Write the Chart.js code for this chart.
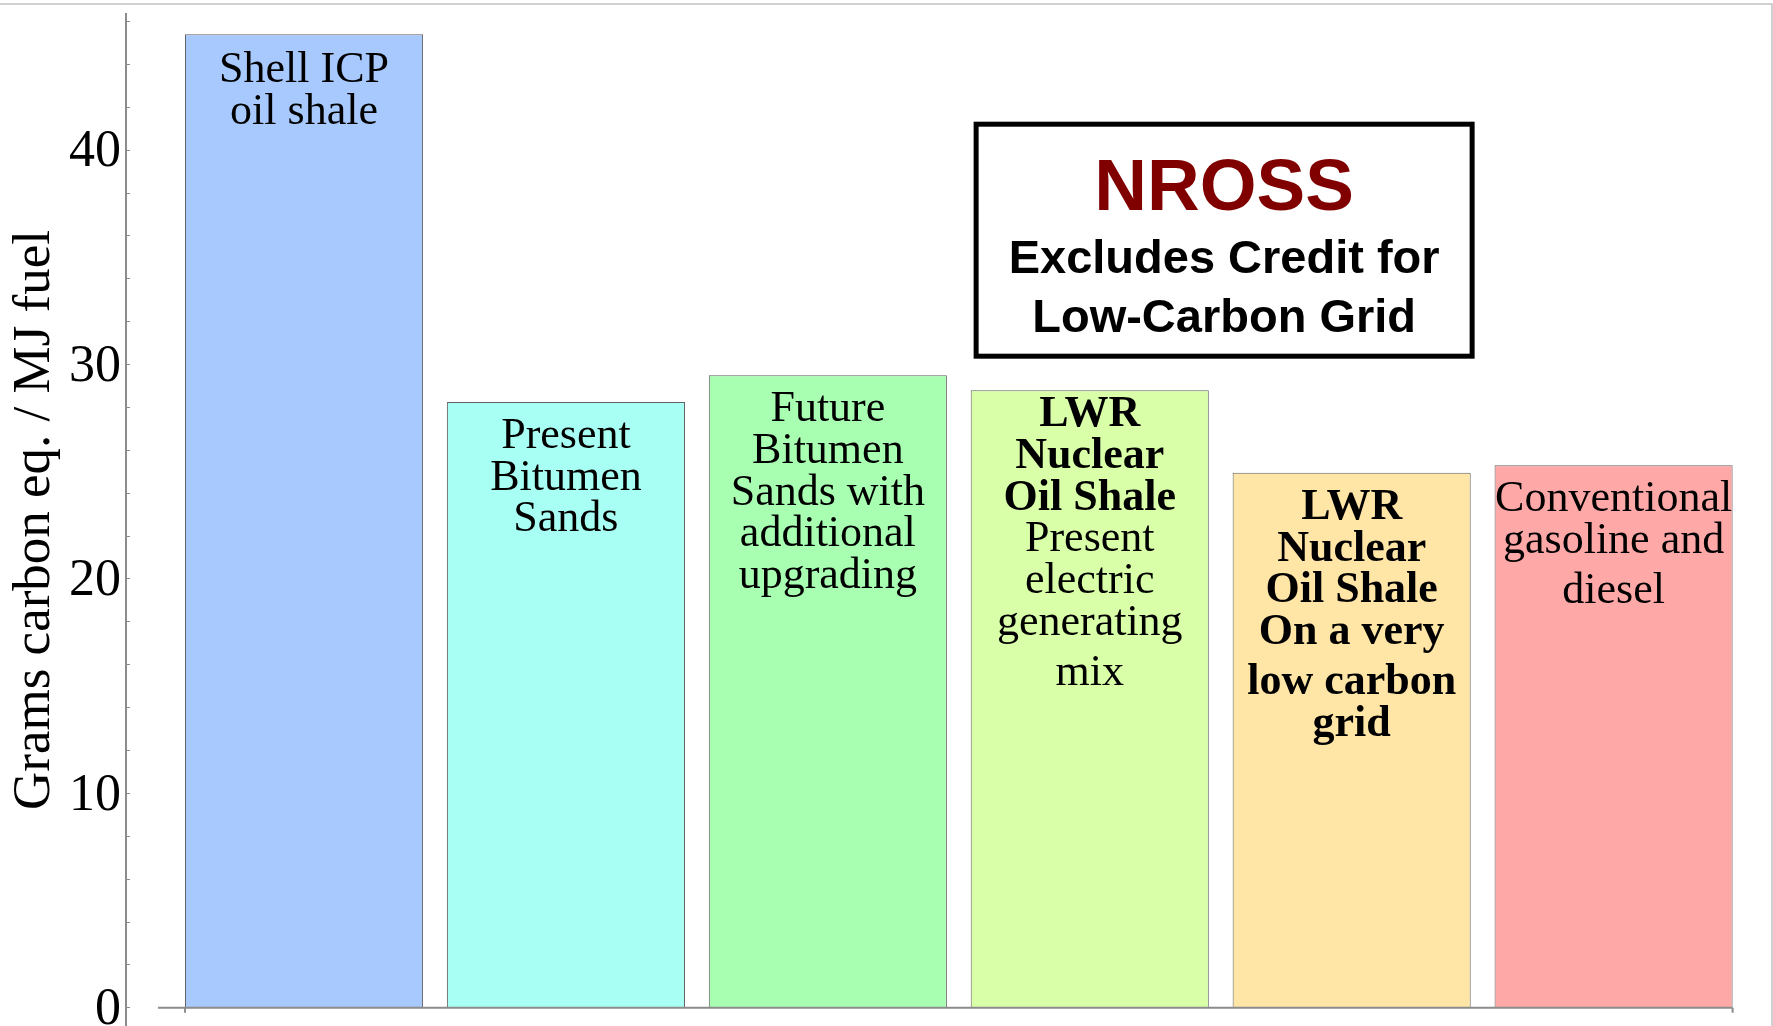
<!DOCTYPE html>
<html>
<head>
<meta charset="utf-8">
<script src="https://cdn.jsdelivr.net/npm/chart.js@4.4.0/dist/chart.umd.min.js"></script>
<style>
    html, body { margin: 0; padding: 0; background: #fff; }
    #wrap { position: relative; width: 1773px; height: 1026px; overflow: hidden; }
    #frame {
        position: absolute; left: -2px; top: 3px; width: 1775px; height: 1040px;
        border-top: 2px solid #d0d0d0; border-right: 2px solid #d0d0d0;
        box-sizing: border-box; pointer-events: none;
    }
</style>
</head>
<body>
<div id="wrap">
    <canvas id="chart" width="1773" height="1026"></canvas>
    <div id="frame"></div>
</div>
<script>
const categories = [
    'Shell ICP oil shale',
    'Present Bitumen Sands',
    'Future Bitumen Sands with additional upgrading',
    'LWR Nuclear Oil Shale Present electric generating mix',
    'LWR Nuclear Oil Shale On a very low carbon grid',
    'Conventional gasoline and diesel'
]
const values = [45.4, 28.25, 29.5, 28.8, 24.95, 25.3]
const barLabels = [
    ['Shell ICP', 'oil shale'],
    ['Present', 'Bitumen', 'Sands'],
    ['Future', 'Bitumen', 'Sands with', 'additional', 'upgrading'],
    ['LWR', 'Nuclear', 'Oil Shale', 'Present', 'electric', 'generating', 'mix'],
    ['LWR', 'Nuclear', 'Oil Shale', 'On a very', 'low carbon', 'grid'],
    ['Conventional', 'gasoline and', 'diesel']
]
// number of leading lines set in bold for each bar
const boldLines = [0, 0, 0, 3, 6, 0]
const yTicks = [0, 10, 20, 30, 40]
const barColors = ['#a8c9fd', '#a8fff3', '#a8ffb2', '#d9ffa8', '#ffe5a6', '#ffa8a8']
const noteLines = ['NROSS', 'Excludes Credit for', 'Low-Carbon Grid']

const serif = '"Liberation Serif", "Times New Roman", serif'
const sans = '"Liberation Sans", Arial, sans-serif'

// x axis drawn from the bars themselves (line starts a bit left of the first bar)
const axisLine = {
    id: 'axisLine',
    afterDatasetsDraw(chart) {
        const ctx = chart.ctx
        const bars = chart.getDatasetMeta(0).data
        const y0 = chart.scales.y.getPixelForValue(0)
        const left = bars[0].x - bars[0].width / 2
        const last = bars[bars.length - 1]
        const right = last.x + last.width / 2
        ctx.save()
        ctx.strokeStyle = '#8c8c8c'
        ctx.lineWidth = 2
        ctx.beginPath()
        ctx.moveTo(left - 27, y0)
        ctx.lineTo(right, y0)
        ctx.moveTo(left, y0)
        ctx.lineTo(left, y0 + 5)
        ctx.moveTo(right, y0)
        ctx.lineTo(right, y0 + 5)
        ctx.stroke()
        ctx.restore()
    }
}

const barText = {
    id: 'barText',
    afterDatasetsDraw(chart, args, opts) {
        const ctx = chart.ctx
        ctx.save()
        ctx.textAlign = 'center'
        ctx.textBaseline = 'alphabetic'
        ctx.fillStyle = '#000'
        chart.getDatasetMeta(0).data.forEach((bar, i) => {
            let y = bar.y + 46 + (opts.shift[i] || 0)
            barLabels[i].forEach((line, j) => {
                ctx.font = (j < boldLines[i] ? 'bold ' : '') + '44px ' + serif
                ctx.fillText(line, bar.x, y)
                y += /[gjpqy]/.test(line) ? 50 : 41.7
            })
        })
        ctx.restore()
    }
}

const noteBox = {
    id: 'noteBox',
    afterDraw(chart) {
        const ctx = chart.ctx
        const cx = chart.scales.x.getPixelForValue(4.513)
        const cy = chart.scales.y.getPixelForValue(35.8)
        const w = 496, h = 232
        ctx.save()
        ctx.strokeStyle = '#000'
        ctx.lineWidth = 5
        ctx.strokeRect(cx - w / 2, cy - h / 2, w, h)
        ctx.textAlign = 'center'
        ctx.textBaseline = 'alphabetic'
        ctx.fillStyle = '#800000'
        ctx.font = 'bold 73px ' + sans
        ctx.fillText(noteLines[0], cx, cy - 30)
        ctx.fillStyle = '#000'
        ctx.font = 'bold 47px ' + sans
        ctx.fillText(noteLines[1], cx, cy + 33)
        ctx.fillText(noteLines[2], cx, cy + 92)
        ctx.restore()
    }
}

new Chart(document.getElementById('chart').getContext('2d'), {
    type: 'bar',
    data: {
        labels: categories,
        datasets: [{
            data: values.map((v, i) => ({ x: i + 1, y: v })),
            backgroundColor: barColors,
            borderColor: 'rgba(70, 70, 70, 0.85)',
            borderWidth: 1,
            categoryPercentage: 1,
            barPercentage: 0.909
        }]
    },
    options: {
        responsive: false,
        animation: false,
        layout: { padding: { top: 14, right: 13, bottom: 0, left: 0 } },
        plugins: {
            legend: { display: false },
            tooltip: { enabled: false },
            barText: { shift: [2, 0, 0, -10, 0, 0] }
        },
        scales: {
            x: {
                type: 'linear',
                display: false,
                offset: false,
                min: 0.3203,
                max: 6.559,
                ticks: { stepSize: 1, includeBounds: false },
                afterFit(scale) {
                    scale.paddingLeft = 0
                    scale.paddingRight = 0
                }
            },
            y: {
                min: -0.85,
                max: 46.35,
                afterFit(scale) {
                    scale.width = 126
                    scale.paddingTop = 0
                    scale.paddingBottom = 0
                },
                border: { color: '#8c8c8c', width: 2 },
                grid: {
                    drawOnChartArea: false,
                    tickLength: -4,
                    tickColor: '#8c8c8c',
                    tickWidth: 1
                },
                ticks: {
                    stepSize: 2,
                    includeBounds: false,
                    autoSkip: false,
                    padding: 9,
                    labelOffset: 2.5,
                    color: '#000',
                    font: { family: serif, size: 52 },
                    callback: v => yTicks.includes(v) ? v : ''
                },
                title: {
                    display: true,
                    text: 'Grams carbon eq. / MJ fuel',
                    color: '#000',
                    font: { family: serif, size: 53 },
                    padding: { top: 3, bottom: 0 }
                }
            }
        }
    },
    plugins: [axisLine, barText, noteBox]
})
</script>
</body>
</html>
